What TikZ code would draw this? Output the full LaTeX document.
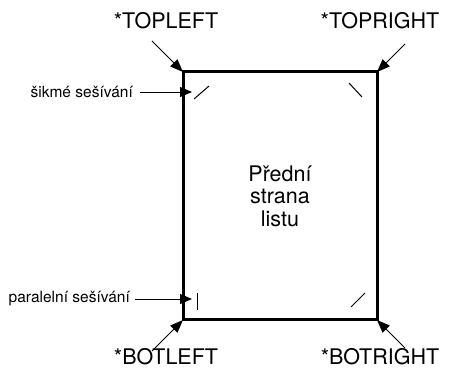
\documentclass[tikz,border=0pt]{standalone}
\usepackage{fontspec}
\setmainfont{TeX Gyre Heros}
\usetikzlibrary{arrows.meta, positioning}

\begin{document}
\begin{tikzpicture}[
  x=1pt, y=-1pt,
  every node/.style={font=\fontsize{21.5}{22.5}\selectfont, inner sep=0pt},
  sheet/.style={draw, line width=3pt, outer sep=0pt,
                minimum width=194pt, minimum height=248pt, align=center},
  side/.style={font=\fontsize{15.5}{17}\selectfont, anchor=east},
  arrow/.style={-{Triangle[length=13pt, width=10pt]}, line width=0.9pt},
  sarrow/.style={-{Triangle[length=12pt, width=10pt]}, line width=0.9pt},
  staple/.style={line width=1pt},
]
\useasboundingbox (0,0) rectangle (456,377);

\node[sheet] (sheet) at (280,196) {P\v{r}edn\'{\i}\\strana\\listu};

%% corner labels
\node (tl) at (166,21)  {*TOPLEFT};
\node (tr) at (380,21)  {*TOPRIGHT};
\node (bl) at (166,357) {*BOTLEFT};
\node (br) at (380,357) {*BOTRIGHT};

\coordinate (tl-from) at (152,41);
\coordinate (tr-from) at (405,44);
\coordinate (bl-from) at (152,351);
\coordinate (br-from) at (405,348);

\draw[arrow] (tl-from) -- (sheet.north west);
\draw[arrow] (tr-from) -- (sheet.north east);
\draw[arrow] (bl-from) -- (sheet.south west);
\draw[arrow] (br-from) -- (sheet.south east);

%% side labels
\node[side] (slant) at (133,92)  {\v{s}ikm\'{e} se\v{s}\'{\i}v\'{a}n\'{\i}};
\node[side] (para)  at (130,299) {paraleln\'{\i} se\v{s}\'{\i}v\'{a}n\'{\i}};

\coordinate (slant-to) at (192,92);
\coordinate (para-to)  at (192,299);

\draw[sarrow, shorten <=7pt] (slant.east) -- (slant-to);
\draw[sarrow, shorten <=5pt] (para.east) -- (para-to);

%% staple marks
\draw[staple] ([shift={(11,27)}]sheet.north west)   -- ([shift={(26,14)}]sheet.north west);
\draw[staple] ([shift={(-28,11)}]sheet.north east)  -- ([shift={(-15,25)}]sheet.north east);
\draw[staple] ([shift={(-26,-13)}]sheet.south east) -- ([shift={(-12,-27)}]sheet.south east);
\draw[staple] ([shift={(14,-27)}]sheet.south west)  -- ([shift={(14,-10)}]sheet.south west);

\end{tikzpicture}
\end{document}
